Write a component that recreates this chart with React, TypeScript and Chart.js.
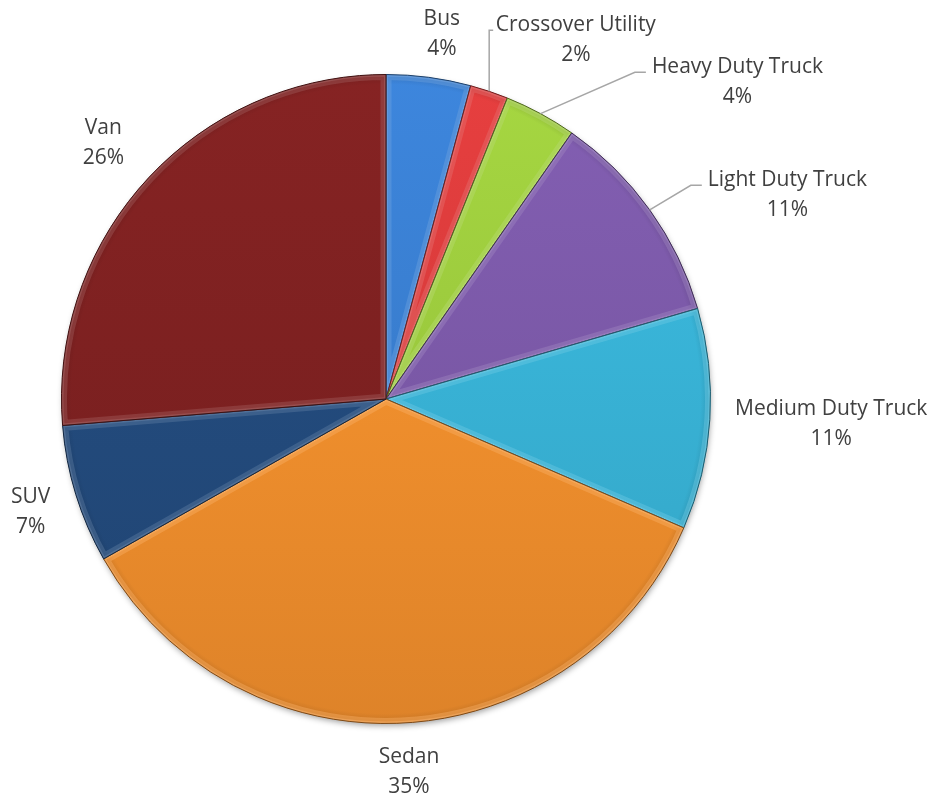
import React, { useEffect, useRef } from "react";
import { Chart, registerables } from "chart.js";

Chart.register(...registerables);

const categories = [
  "Bus",
  "Crossover Utility",
  "Heavy Duty Truck",
  "Light Duty Truck",
  "Medium Duty Truck",
  "Sedan",
  "SUV",
  "Van",
];
const shares = [4.2, 1.9, 3.6, 10.8, 11.0, 35.3, 6.9, 26.3];
const percentLabels = ["4%", "2%", "4%", "11%", "11%", "35%", "7%", "26%"];

const sliceColors = [
  "#3a80d2",
  "#dc3c3c",
  "#9ecd3e",
  "#7d5aaa",
  "#39b5d9",
  "#f7922e",
  "#234c7f",
  "#802121",
];

// label centre offsets in units of the pie radius, from the pie centre
const labelOffsetX = [0.172, 0.585, 1.083, 1.237, 1.372, 0.071, -1.095, -0.871];
const labelOffsetY = [-1.128, -1.112, -0.982, -0.634, 0.071, 1.145, 0.345, -0.794];
const hasLeader = [false, true, true, true, false, false, false, false];

const FONT_SIZE = 21;
const FONT = `${FONT_SIZE}px "Open Sans", "Noto Sans", sans-serif`;
const LINE_GAP = 30;

function shade(hex: string, f: number, a = 1) {
  const n = parseInt(hex.slice(1), 16);
  const r = Math.min(255, Math.round(((n >> 16) & 255) * f));
  const g = Math.min(255, Math.round(((n >> 8) & 255) * f));
  const b = Math.min(255, Math.round((n & 255) * f));
  return `rgba(${r},${g},${b},${a})`;
}

function tint(hex: string, t: number, a = 1) {
  const n = parseInt(hex.slice(1), 16);
  const mix = (v: number) => Math.round(v + (255 - v) * t);
  return `rgba(${mix((n >> 16) & 255)},${mix((n >> 8) & 255)},${mix(n & 255)},${a})`;
}

function arcPath(ctx: CanvasRenderingContext2D, p: any) {
  ctx.beginPath();
  ctx.moveTo(p.x, p.y);
  ctx.arc(p.x, p.y, p.outerRadius, p.startAngle, p.endAngle);
  ctx.closePath();
}

const shadowPlugin = {
  id: "pieShadow",
  beforeDatasetsDraw(chart: any) {
    const meta = chart.getDatasetMeta(0);
    if (!meta.data.length) return;
    const p = meta.data[0].getProps(["x", "y", "outerRadius"], true);
    const ctx = chart.ctx;
    ctx.save();
    ctx.shadowColor = "rgba(0,0,0,0.4)";
    ctx.shadowBlur = 6;
    ctx.shadowOffsetX = 1;
    ctx.shadowOffsetY = 3;
    ctx.beginPath();
    ctx.arc(p.x, p.y, p.outerRadius - 1, 0, Math.PI * 2);
    ctx.fillStyle = "#777";
    ctx.fill();
    ctx.restore();
  },
};

const bevelPlugin = {
  id: "pieBevel",
  afterDatasetsDraw(chart: any) {
    const ctx = chart.ctx;
    const meta = chart.getDatasetMeta(0);
    meta.data.forEach((el: any, i: number) => {
      const p = el.getProps(["x", "y", "startAngle", "endAngle", "outerRadius"], true);
      const base = sliceColors[i];
      ctx.save();
      arcPath(ctx, p);
      ctx.clip();
      // slightly darker rim at the outside
      const rg = ctx.createRadialGradient(p.x, p.y, p.outerRadius - 10, p.x, p.y, p.outerRadius);
      rg.addColorStop(0, "rgba(0,0,0,0)");
      rg.addColorStop(1, "rgba(0,0,0,0.12)");
      ctx.fillStyle = rg;
      ctx.fill();
      // light bevel band inside the edges
      arcPath(ctx, p);
      ctx.lineJoin = "round";
      ctx.lineWidth = 11;
      ctx.strokeStyle = tint(base, 0.25, 0.45);
      ctx.stroke();
      ctx.lineWidth = 4;
      ctx.strokeStyle = tint(base, 0.3, 0.5);
      ctx.stroke();
      ctx.restore();
      ctx.save();
      arcPath(ctx, p);
      ctx.lineWidth = 1;
      ctx.strokeStyle = shade(base, 0.5);
      ctx.stroke();
      ctx.restore();
    });
  },
};

const labelPlugin = {
  id: "pieLabels",
  afterDraw(chart: any) {
    const ctx = chart.ctx;
    const meta = chart.getDatasetMeta(0);
    ctx.save();
    ctx.font = FONT;
    ctx.textAlign = "center";
    ctx.textBaseline = "alphabetic";
    const capH = FONT_SIZE * 0.714;
    meta.data.forEach((el: any, i: number) => {
      const p = el.getProps(["x", "y", "startAngle", "endAngle", "outerRadius"], true);
      const R = p.outerRadius;
      const cx = p.x + labelOffsetX[i] * R;
      const cy = p.y + labelOffsetY[i] * R;
      const l1 = categories[i];
      const l2 = percentLabels[i];
      if (hasLeader[i]) {
        const w = Math.max(ctx.measureText(l1).width, ctx.measureText(l2).width);
        const left = cx - w / 2;
        const mid = (p.startAngle + p.endAngle) / 2;
        const ex = p.x + R * Math.cos(mid);
        const ey = p.y + R * Math.sin(mid);
        const ty = cy - 8;
        const elbowX = Math.max(ex, left - 17);
        const endX = Math.max(left - 6, elbowX + 4);
        ctx.beginPath();
        ctx.moveTo(ex, ey);
        ctx.lineTo(elbowX, ty);
        ctx.lineTo(endX, ty);
        ctx.strokeStyle = "#a6a6a6";
        ctx.lineWidth = 1.5;
        ctx.stroke();
      }
      ctx.fillStyle = "#404040";
      ctx.fillText(l1, cx, cy - LINE_GAP / 2 + capH / 2);
      ctx.fillText(l2, cx, cy + LINE_GAP / 2 + capH / 2);
    });
    ctx.restore();
  },
};

export default function App() {
  const canvasRef = useRef<HTMLCanvasElement | null>(null);

  useEffect(() => {
    const canvas = canvasRef.current;
    if (!canvas) return;
    const chart = new Chart(canvas, {
      type: "pie",
      data: {
        labels: categories,
        datasets: [
          {
            data: shares,
            backgroundColor: (c: any) => {
              const chartArea = c.chart.chartArea;
              const base = sliceColors[c.dataIndex] || "#888888";
              if (!chartArea) return base;
              const g = c.chart.ctx.createLinearGradient(0, chartArea.top, 0, chartArea.bottom);
              g.addColorStop(0, shade(base, 1.05));
              g.addColorStop(1, shade(base, 0.9));
              return g;
            },
            borderColor: "rgba(0,0,0,0)",
            borderWidth: 1,
          },
        ],
      },
      options: {
        animation: false,
        responsive: true,
        maintainAspectRatio: false,
        layout: { padding: { left: 61, right: 226, top: 74, bottom: 75 } },
        plugins: {
          legend: { display: false },
          tooltip: { enabled: false },
        },
      },
      plugins: [shadowPlugin, bevelPlugin, labelPlugin],
    });
    return () => chart.destroy();
  }, []);

  return (
    <div
      style={{
        position: "absolute",
        left: 0,
        top: 0,
        width: 937,
        height: 799,
        background: "#ffffff",
      }}
    >
      <canvas ref={canvasRef} />
    </div>
  );
}
